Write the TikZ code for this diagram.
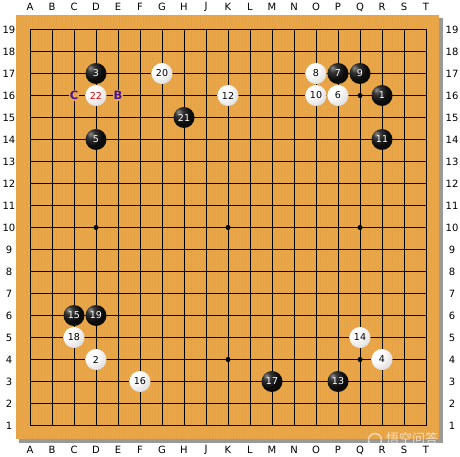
\documentclass[tikz,border=0pt]{standalone}
\usepackage{fontspec}
\setmainfont{DejaVu Sans}
\newfontfamily\cjk{Noto Sans CJK SC}
\pgfdeclareradialshading{blackball}{\pgfpoint{-14bp}{14bp}}{color(0bp)=(black!45); color(10bp)=(black!80); color(24bp)=(black!95); color(80bp)=(black)}
\pgfdeclareradialshading{whiteball}{\pgfpoint{-14bp}{14bp}}{color(0bp)=(white); color(14bp)=(white); color(34bp)=(black!12); color(52bp)=(black!32); color(70bp)=(black!55); color(80bp)=(black!60)}
\begin{document}
\begin{tikzpicture}[x=1pt,y=-1pt,
  coordlabel/.style={font=\fontsize{10}{11}\selectfont, text=black, inner sep=0pt},
  blackstone/.style={circle, minimum size=21pt, inner sep=0pt, shading=blackball, text=white, font=\fontsize{9.5}{10}\selectfont},
  whitestone/.style={circle, minimum size=21pt, inner sep=0pt, shading=whiteball, text=black, font=\fontsize{9.5}{10}\selectfont},
  marklabel/.style={inner sep=1pt, text={rgb,255:red,70;green,20;blue,160}, font=\fontsize{11.5}{12}\selectfont\bfseries, fill={rgb,255:red,232;green,166;blue,72}},
  gridline/.style={line width=0.9pt, black},
  starpt/.style={circle, fill=black, inner sep=0pt, minimum size=5pt}]
\useasboundingbox (0,0) rectangle (460,457);
\fill[white] (0,0) rectangle (460,457);
% shadow and board
\fill[gray!80] (19,18) rectangle (443,443);
\fill[fill={rgb,255:red,232;green,166;blue,72}] (16,15) rectangle (439,439);
% wood grain
\pgfmathsetseed{7}
\foreach \i in {0,...,140}{
  \pgfmathsetmacro{\xx}{17+3*\i}
  \pgfmathsetmacro{\op}{0.02+0.06*rnd}
  \draw[line width=0.8pt, draw={rgb,255:red,190;green,120;blue,40}, opacity=\op] (\xx,15) -- (\xx,439);
}
% grid
\foreach \i in {0,...,18}{
  \draw[gridline] (30+22*\i,29.5) -- (30+22*\i,425.5);
  \draw[gridline] (30,29.5+22*\i) -- (426,29.5+22*\i);
}
% coordinates
\foreach \l [count=\k from 0] in {A,B,C,D,E,F,G,H,J,K,L,M,N,O,P,Q,R,S,T}{
  \node[coordlabel] (top\k) at (30+22*\k,7) {\l};
  \node[coordlabel] (bot\k) at (30+22*\k,450) {\l};
}
\foreach \n in {1,...,19}{
  \node[coordlabel] (left\n) at (9,29.5+22*19-22*\n) {\n};
  \node[coordlabel] (right\n) at (452,29.5+22*19-22*\n) {\n};
}
% star points
\foreach \c/\r [count=\s] in {3/4,3/10,3/16,9/4,9/10,9/16,15/4,15/10,15/16}{
  \node[starpt] (star\s) at (30+22*\c,29.5+22*19-22*\r) {};
}
% black stones
\foreach \c/\r/\t in {16/16/1,3/17/3,3/14/5,14/17/7,15/17/9,16/14/11,14/3/13,2/6/15,11/3/17,3/6/19,7/15/21}{
  \node[blackstone] (s\t) at (30+22*\c,29.5+22*19-22*\r) {\t};
}
% white stones
\foreach \c/\r/\t in {3/4/2,16/4/4,14/16/6,13/17/8,13/16/10,9/16/12,15/5/14,5/3/16,2/5/18,6/17/20}{
  \node[whitestone] (s\t) at (30+22*\c,29.5+22*19-22*\r) {\t};
}
\node[whitestone, text=red!85!black] (s22) at (30+22*3,29.5+22*3) {22};
% marks
\node[marklabel] (markC) at (30+22*2,29.5+22*3) {C};
\node[marklabel] (markB) at (30+22*4,29.5+22*3) {B};
% watermark
\draw[white, opacity=0.6, line width=1.5pt] (375,440) circle (6.5);
\node[inner sep=0pt, text=white, opacity=0.65, font=\cjk\fontsize{13}{13}\selectfont] (wm) at (412,439) {悟空问答};
\end{tikzpicture}
\end{document}
